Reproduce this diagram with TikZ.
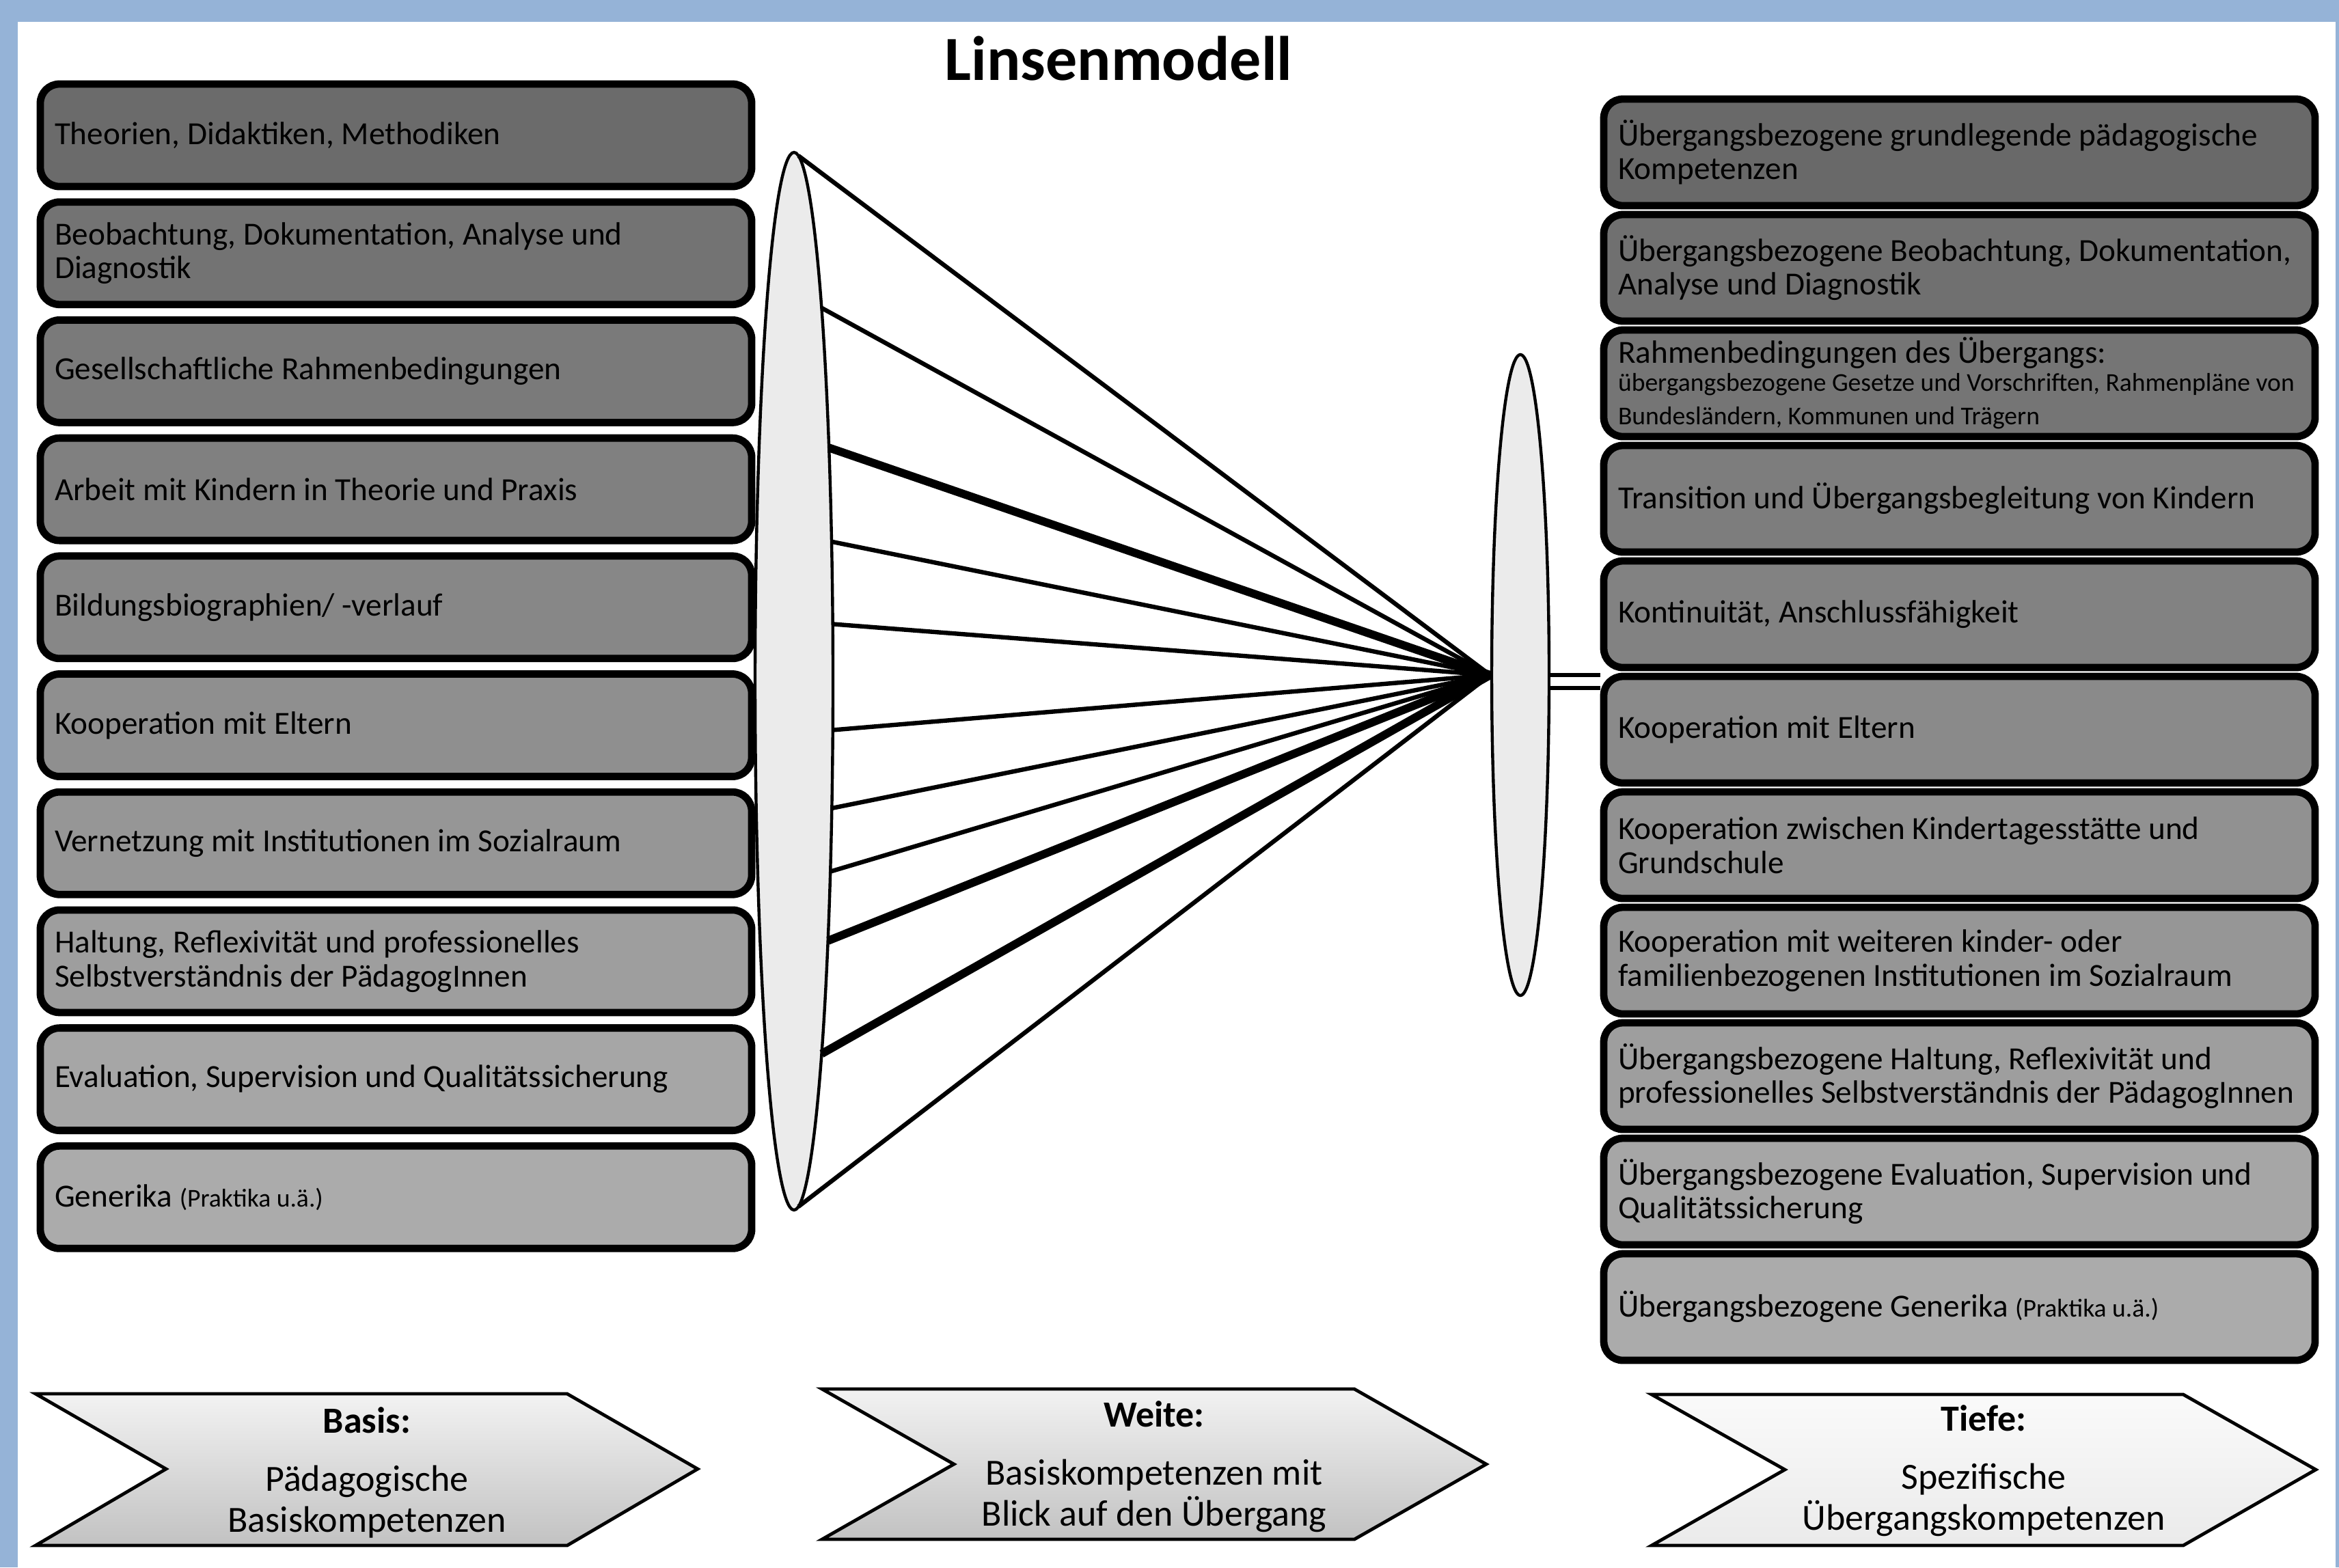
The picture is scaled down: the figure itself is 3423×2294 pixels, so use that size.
\documentclass[tikz,border=0pt]{standalone}
\usepackage{fontspec}
\setmainfont{Carlito}
\usetikzlibrary{shapes.geometric}
\definecolor{rahmenblau}{RGB}{149,179,215}
\newcommand{\kleinschrift}{\fontsize{9.4}{10.2}\selectfont}

\begin{document}
\begin{tikzpicture}[x=0.25pt, y=-0.25pt,
   feld/.style={draw, line width=2.7pt, rounded corners=7pt, minimum width=260.25pt,
      minimum height=37.5pt, inner xsep=5.25pt, inner ysep=0pt, text width=249.75pt,
      align=flush left, font=\fontsize{11.8}{12.4}\selectfont},
   rfeld/.style={feld, minimum height=39pt},
   linse/.style={draw, ellipse, line width=1.1pt, fill=black!8, inner sep=0pt},
   strahl/.style={line width=1.6pt},
   dick/.style={line width=3pt},
   pfeil/.style={draw, line width=1.2pt, top color=black!5, bottom color=black!24},
   schrift/.style={align=center, font=\fontsize{13.5}{15}\selectfont}]
   \fill[rahmenblau] (0,0) rectangle (3423,2294);
   \fill[white] (26,32) rectangle (3418,2294);
   \useasboundingbox (0,0) rectangle (3423,2294);
   \node[anchor=base, font=\bfseries\fontsize{23}{27}\selectfont] (titel) at (1637,117) {Linsenmodell};
   % Basis
   \node[feld, fill=black!58] (b1) at (579.5,198) {Theorien, Didaktiken, Methodiken};
   \node[feld, fill=black!55] (b2) at (579.5,370.7) {Beobachtung, Dokumentation, Analyse und\\Diagnostik};
   \node[feld, fill=black!52] (b3) at (579.5,543.4) {Gesellschaftliche Rahmenbedingungen};
   \node[feld, fill=black!50] (b4) at (579.5,716.1) {Arbeit mit Kindern in Theorie und Praxis};
   \node[feld, fill=black!47] (b5) at (579.5,888.8) {Bildungsbiographien/ -verlauf};
   \node[feld, fill=black!44] (b6) at (579.5,1061.5) {Kooperation mit Eltern};
   \node[feld, fill=black!41] (b7) at (579.5,1234.2) {Vernetzung mit Institutionen im Sozialraum};
   \node[feld, fill=black!38] (b8) at (579.5,1406.9) {Haltung, Reflexivität und professionelles\\Selbstverständnis der PädagogInnen};
   \node[feld, fill=black!35] (b9) at (579.5,1579.6) {Evaluation, Supervision und Qualitätssicherung};
   \node[feld, fill=black!33] (b10) at (579.5,1752.3) {Generika {\kleinschrift (Praktika u.ä.)}};
   % Tiefe
   \node[rfeld, fill=black!59] (r1) at (2867.5,223) {Übergangsbezogene grundlegende pädagogische\\Kompetenzen};
   \node[rfeld, fill=black!56] (r2) at (2867.5,392) {Übergangsbezogene Beobachtung, Dokumentation,\\Analyse und Diagnostik};
   \node[rfeld, fill=black!54] (r3) at (2867.5,561) {Rahmenbedingungen des Übergangs:\\\kleinschrift übergangsbezogene Gesetze und Vorschriften, Rahmenpläne von\\Bundesländern, Kommunen und Trägern};
   \node[rfeld, fill=black!51] (r4) at (2867.5,730) {Transition und Übergangsbegleitung von Kindern};
   \node[rfeld, fill=black!49] (r5) at (2867.5,899) {Kontinuität, Anschlussfähigkeit};
   \node[rfeld, fill=black!46] (r6) at (2867.5,1068) {Kooperation mit Eltern};
   \node[rfeld, fill=black!43] (r7) at (2867.5,1237) {Kooperation zwischen Kindertagesstätte und\\Grundschule};
   \node[rfeld, fill=black!41] (r8) at (2867.5,1406) {Kooperation mit weiteren kinder- oder\\familienbezogenen Institutionen im Sozialraum};
   \node[rfeld, fill=black!38] (r9) at (2867.5,1575) {Übergangsbezogene Haltung, Reflexivität und\\professionelles Selbstverständnis der PädagogInnen};
   \node[rfeld, fill=black!35] (r10) at (2867.5,1744) {Übergangsbezogene Evaluation, Supervision und\\Qualitätssicherung};
   \node[rfeld, fill=black!33] (r11) at (2867.5,1913) {Übergangsbezogene Generika {\kleinschrift (Praktika u.ä.)}};
   % Linsen
   \node[linse, minimum width=28.5pt, minimum height=387pt] (grosselinse) at (1162,997) {};
   \node[linse, minimum width=21pt, minimum height=234.5pt] (kleinelinse) at (2225,988) {};
   \draw[strahl] (grosselinse.center) ++(-83.5:57 and 774) -- (kleinelinse.west);
   \draw[strahl] (grosselinse.center) ++(-44.9:57 and 774) -- (kleinelinse.west);
   \draw[dick] (grosselinse.center) ++(-26.2:57 and 774) -- (kleinelinse.west);
   \draw[strahl] (grosselinse.center) ++(-15.3:57 and 774) -- (kleinelinse.west);
   \draw[strahl] (grosselinse.center) ++(-6.2:57 and 774) -- (kleinelinse.west);
   \draw[strahl] (grosselinse.center) ++(5.3:57 and 774) -- (kleinelinse.west);
   \draw[strahl] (grosselinse.center) ++(13.9:57 and 774) -- (kleinelinse.west);
   \draw[strahl] (grosselinse.center) ++(21.1:57 and 774) -- (kleinelinse.west);
   \draw[dick] (grosselinse.center) ++(29.4:57 and 774) -- (kleinelinse.west);
   \draw[dick] (grosselinse.center) ++(44.8:57 and 774) -- (kleinelinse.west);
   \draw[strahl] (grosselinse.center) ++(83.5:57 and 774) -- (kleinelinse.west);
   \coordinate (anschluss) at ([yshift=-2.4pt]kleinelinse.east);
   \draw[line width=1.6pt, double, double distance=3.2pt] (anschluss) -- (anschluss -| r6.west);
   % Pfeile unten
   \draw[pfeil] (52,2040) -- (830,2040) -- (1021,2150) -- (830,2262) -- (52,2262) -- (243,2150) -- cycle;
   \node[schrift] (basis) at (537,2155) {\textbf{Basis:}\\[6.25pt]Pädagogische\\Basiskompetenzen};
   \draw[pfeil] (1203,2033) -- (1982,2033) -- (2175,2143) -- (1982,2253) -- (1203,2253) -- (1396,2143) -- cycle;
   \node[schrift] (weite) at (1689,2147) {\textbf{Weite:}\\[6.25pt]Basiskompetenzen mit\\Blick auf den Übergang};
   \draw[pfeil, top color=black!2, bottom color=black!8] (2417,2041) -- (3195,2041) -- (3389,2151) -- (3195,2262) -- (2417,2262) -- (2612,2151) -- cycle;
   \node[schrift] (tiefe) at (2903,2153) {\textbf{Tiefe:}\\[6.25pt]Spezifische\\Übergangskompetenzen};
\end{tikzpicture}
\end{document}
